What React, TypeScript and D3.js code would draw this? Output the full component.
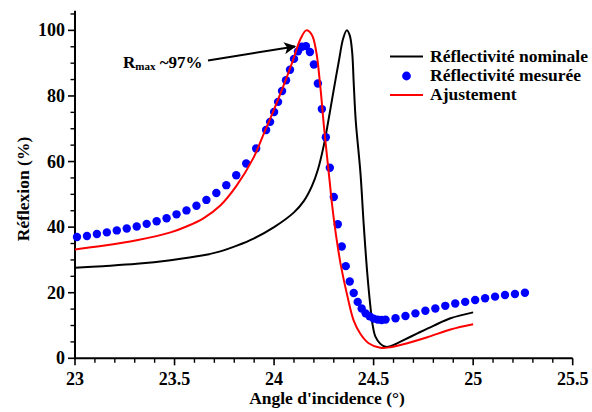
import React from "react";
import * as d3 from "d3";

const xTicks = [23, 23.5, 24, 24.5, 25, 25.5];
const yTicks = [0, 20, 40, 60, 80, 100];

// Réflectivité mesurée (points)
const measX = [23.01, 23.06, 23.11, 23.16, 23.21, 23.26, 23.31, 23.36, 23.41, 23.46, 23.51, 23.56, 23.61, 23.66, 23.71, 23.76, 23.81, 23.86, 23.91, 23.96, 23.98, 24.0, 24.02, 24.04, 24.06, 24.08, 24.1, 24.12, 24.14, 24.16, 24.18, 24.2, 24.22, 24.24, 24.26, 24.28, 24.3, 24.32, 24.34, 24.36, 24.38, 24.4, 24.42, 24.44, 24.46, 24.48, 24.5, 24.52, 24.54, 24.56, 24.61, 24.66, 24.71, 24.76, 24.81, 24.86, 24.91, 24.96, 25.01, 25.06, 25.11, 25.16, 25.21, 25.26];
const measY = [37.0, 37.3, 37.9, 38.4, 39.0, 39.6, 40.2, 41.0, 41.8, 42.7, 43.9, 45.1, 46.5, 48.3, 50.4, 52.8, 55.8, 59.4, 64.0, 69.6, 72.1, 75.1, 78.2, 81.5, 84.8, 88.0, 91.3, 93.6, 95.0, 95.2, 93.4, 89.6, 83.8, 76.0, 67.4, 58.1, 49.2, 40.9, 34.1, 28.1, 23.4, 19.9, 17.2, 15.2, 13.7, 12.8, 12.1, 11.8, 11.7, 11.8, 12.2, 12.9, 13.7, 14.5, 15.2, 16.0, 16.7, 17.2, 17.8, 18.3, 18.8, 19.3, 19.6, 20.0];

// Réflectivité nominale (courbe noire)
const nomX = [23.0, 23.14, 23.31, 23.48, 23.645, 23.73, 23.81, 23.9, 24.0, 24.1, 24.15, 24.19, 24.22, 24.25, 24.28, 24.3, 24.325, 24.347, 24.365, 24.38, 24.392, 24.4, 24.41, 24.434, 24.45, 24.468, 24.484, 24.495, 24.509, 24.534, 24.56, 24.585, 24.635, 24.72, 24.8, 24.886, 25.0];
const nomY = [27.6, 28.1, 28.8, 29.9, 31.4, 32.6, 34.3, 36.6, 40.0, 44.5, 48.0, 52.5, 57.5, 65.0, 75.0, 82.0, 90.5, 97.5, 100.0, 98.5, 93.5, 84.0, 72.6, 56.4, 41.0, 26.0, 15.7, 10.2, 6.6, 4.4, 3.5, 3.7, 5.1, 7.6, 9.9, 12.2, 14.0];

// Ajustement (courbe rouge)
const fitX = [23.0, 23.14, 23.31, 23.48, 23.56, 23.645, 23.73, 23.81, 23.897, 23.947, 23.998, 24.048, 24.098, 24.132, 24.162, 24.19, 24.212, 24.232, 24.25, 24.266, 24.28, 24.291, 24.31, 24.335, 24.37, 24.4, 24.434, 24.475, 24.534, 24.585, 24.669, 24.77, 24.886, 25.0];
const fitY = [33.2, 34.3, 36.0, 38.4, 40.2, 42.7, 46.6, 52.5, 61.2, 68.3, 75.6, 83.2, 91.4, 97.3, 100.0, 98.6, 93.4, 83.0, 71.0, 61.5, 53.5, 47.0, 38.0, 28.5, 18.5, 11.5, 7.4, 4.6, 3.2, 3.4, 4.6, 6.4, 8.8, 10.4];

const legendLabels = ["Réflectivité nominale", "Réflectivité mesurée", "Ajustement"];

const W = 592;
const H = 412;
const FONT = "'Liberation Serif', 'Times New Roman', serif";

export default function App() {
  const x = d3.scaleLinear().domain([23, 25.5]).range([75, 572.7]);
  const y = d3.scaleLinear().domain([0, 106]).range([358.3, 10.7]);

  const line = d3
    .line<[number, number]>()
    .x((d) => x(d[0]))
    .y((d) => y(d[1]))
    .curve(d3.curveCatmullRom.alpha(0.5));

  const nomPts: [number, number][] = nomX.map((v, i) => [v, nomY[i]]);
  const fitPts: [number, number][] = fitX.map((v, i) => [v, fitY[i]]);

  const xMinor = d3.range(230, 256, 1).map((v) => v / 10).filter((v) => !xTicks.some((t) => Math.abs(t - v) < 1e-9));
  const yMinor = d3.range(0, 106, 5).filter((v) => v % 20 !== 0);

  const axisColor = "#000";

  return (
    <div style={{ position: "absolute", left: 0, top: 0 }}>
      <svg width={W} height={H} style={{ display: "block", background: "#fff" }} fontFamily={FONT} fontWeight="bold">
        <defs>
          <marker id="arrowhead" viewBox="0 0 10 10" refX="9" refY="5" markerWidth="6" markerHeight="6" orient="auto" markerUnits="strokeWidth">
            <path d="M0,0 L10,5 L0,10 L2.5,5 z" fill="#000" />
          </marker>
        </defs>

        {/* axes */}
        <line x1={x(23)} x2={x(25.5)} y1={y(0)} y2={y(0)} stroke={axisColor} strokeWidth={2} />
        <line x1={x(23)} x2={x(23)} y1={y(0) + 1} y2={y(106)} stroke={axisColor} strokeWidth={2} />

        {xTicks.map((t) => (
          <g key={"xt" + t}>
            <line x1={x(t)} x2={x(t)} y1={y(0)} y2={y(0) + 7} stroke={axisColor} strokeWidth={1.6} />
            <text x={x(t)} y={385} textAnchor="middle" fontSize={18}>{String(t)}</text>
          </g>
        ))}
        {xMinor.map((t) => (
          <line key={"xm" + t} x1={x(t)} x2={x(t)} y1={y(0)} y2={y(0) + 4.5} stroke={axisColor} strokeWidth={1.4} />
        ))}
        {yTicks.map((t) => (
          <g key={"yt" + t}>
            <line x1={x(23) - 7} x2={x(23)} y1={y(t)} y2={y(t)} stroke={axisColor} strokeWidth={1.6} />
            <text x={65} y={y(t) + 6} textAnchor="end" fontSize={18}>{String(t)}</text>
          </g>
        ))}
        {yMinor.map((t) => (
          <line key={"ym" + t} x1={x(23) - 4.5} x2={x(23)} y1={y(t)} y2={y(t)} stroke={axisColor} strokeWidth={1.4} />
        ))}

        {/* axis titles */}
        <text x={327} y={404} textAnchor="middle" fontSize={17.5}>Angle d'incidence (°)</text>
        <text transform={`translate(29,189) rotate(-90)`} textAnchor="middle" fontSize={17.5}>Réflexion (%)</text>

        {/* curves */}
        <path d={line(nomPts) || ""} fill="none" stroke="#000" strokeWidth={2} />
        {measX.map((v, i) => (
          <circle key={"m" + i} cx={x(v)} cy={y(measY[i])} r={4.2} fill="#0000ff" />
        ))}
        <path d={line(fitPts) || ""} fill="none" stroke="#ff0000" strokeWidth={2} />

        {/* annotation */}
        <text x={123} y={68} fontSize={17}>
          R<tspan fontSize={11} dy={2}>max</tspan>
          <tspan dy={-2}> ~97%</tspan>
        </text>
        <line x1={208} y1={60.5} x2={295} y2={46.5} stroke="#000" strokeWidth={2} markerEnd="url(#arrowhead)" />

        {/* legend */}
        <g>
          <line x1={390} x2={423} y1={56.5} y2={56.5} stroke="#000" strokeWidth={2.2} />
          <text x={430} y={61.5} fontSize={17.5}>{legendLabels[0]}</text>
          <circle cx={406.5} cy={76} r={4.4} fill="#0000ff" />
          <text x={430} y={80.5} fontSize={17.5}>{legendLabels[1]}</text>
          <line x1={390} x2={423} y1={95} y2={95} stroke="#ff0000" strokeWidth={2.2} />
          <text x={430} y={99.5} fontSize={17.5}>{legendLabels[2]}</text>
        </g>
      </svg>
    </div>
  );
}
